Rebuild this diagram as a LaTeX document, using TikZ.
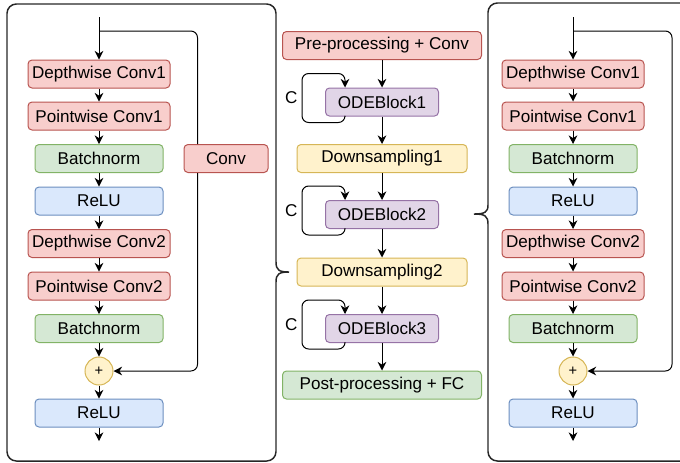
\documentclass[tikz,border=0pt]{standalone}
\usepackage{fontspec}
\setmainfont{Liberation Sans}
\usepackage{tikz}
\usetikzlibrary{arrows.meta,calc}
\tikzset{every picture/.style={line width=0.75pt}}

\definecolor{redfill}{HTML}{F8CECC}
\definecolor{redline}{HTML}{B85450}
\definecolor{grnfill}{HTML}{D5E8D4}
\definecolor{grnline}{HTML}{82B366}
\definecolor{blufill}{HTML}{DAE8FC}
\definecolor{bluline}{HTML}{6C8EBF}
\definecolor{purfill}{HTML}{E1D5E7}
\definecolor{purline}{HTML}{9673A6}
\definecolor{yelfill}{HTML}{FFF2CC}
\definecolor{yelline}{HTML}{D6B656}

\tikzset{
  blk/.style={draw, rounded corners=3pt, minimum height=21pt, inner sep=0pt,
    font=\fontsize{12.8}{15}\selectfont},
  redbox/.style={blk, fill=redfill, draw=redline},
  grnbox/.style={blk, fill=grnfill, draw=grnline},
  blubox/.style={blk, fill=blufill, draw=bluline},
  purbox/.style={blk, fill=purfill, draw=purline, minimum width=84.75pt},
  yelbox/.style={blk, fill=yelfill, draw=yelline, minimum width=127.5pt},
  plusnode/.style={circle, draw=yelline, fill=yelfill, minimum size=21pt,
    inner sep=0pt, font=\fontsize{11}{13}\selectfont},
  arr/.style={-{Stealth[length=6.5pt,width=6.5pt]}},
  panel/.style={draw=black!85, line width=1.1pt},
}

\begin{document}
\begin{tikzpicture}[x=0.75pt,y=0.75pt,yscale=-1,xscale=1]
		\useasboundingbox (0,0) rectangle (680,462);
		
		%Shape: left panel with brace
		\draw [panel, rounded corners=7] (276,262) -- (276,4) -- (7,4) -- (7,461) -- (276,461) -- (276,282) ;
		\draw [panel] (276,262) .. controls (276,270) and (279,272) .. (289,272) .. controls (279,272) and (276,274) .. (276,282) ;
		%Shape: right panel with brace
		\draw [panel, rounded corners=7] (488,205) -- (488,3) -- (700,3) ;
		\draw [panel, rounded corners=7] (488,224) -- (488,461) -- (700,461) ;
		\draw [panel] (488,205) .. controls (488,212) and (485,214) .. (474,214) .. controls (485,214) and (488,216) .. (488,224) ;
		
		% Left block nodes
		\node [redbox, minimum width=106.5pt] (ldw1) at (99,74) {Depthwise Conv1};
		\node [redbox, minimum width=106.5pt] (lpw1) at (99,116) {Pointwise Conv1};
		\node [grnbox, minimum width=96pt] (lbn1) at (99,158.5) {Batchnorm};
		\node [blubox, minimum width=96pt] (lrelu1) at (99,201) {ReLU};
		\node [redbox, minimum width=106.5pt] (ldw2) at (99,243.5) {Depthwise Conv2};
		\node [redbox, minimum width=106.5pt] (lpw2) at (99,286) {Pointwise Conv2};
		\node [grnbox, minimum width=96pt] (lbn2) at (99,328.5) {Batchnorm};
		\node [plusnode] (lplus) at (99,371) {+};
		\node [blubox, minimum width=96pt] (lrelu2) at (99,413) {ReLU};
		\node [redbox, minimum width=63pt] (lconv) at (226,158.5) {Conv};
		\coordinate (lin) at (99,17);
		\coordinate (lsplit) at (99,31);
		\coordinate (lout) at (99,441);
		
		%Straight Lines: left block
		\draw [arr] (lin) -- (ldw1);
		\draw [arr] (ldw1) -- (lpw1);
		\draw [arr] (lpw1) -- (lbn1);
		\draw [arr] (lbn1) -- (lrelu1);
		\draw [arr] (lrelu1) -- (ldw2);
		\draw [arr] (ldw2) -- (lpw2);
		\draw [arr] (lpw2) -- (lbn2);
		\draw [arr] (lbn2) -- (lplus);
		\draw [arr] (lplus) -- (lrelu2);
		\draw [arr] (lrelu2) -- (lout);
		%shortcut through Conv
		\draw [rounded corners=5] (lsplit) -| ($(lconv.north west)+(14,0)$);
		\draw [arr, rounded corners=5] ($(lconv.south west)+(14,0)$) |- (lplus);
		
		% Middle column nodes
		\node [redbox, minimum width=149.25pt] (pre) at (382,45.5) {Pre-processing + Conv};
		\node [purbox] (ode1) at (382,102) {ODEBlock1};
		\node [yelbox] (down1) at (382,158.5) {Downsampling1};
		\node [purbox] (ode2) at (382,214.5) {ODEBlock2};
		\node [yelbox] (down2) at (382,272) {Downsampling2};
		\node [purbox] (ode3) at (382,328.5) {ODEBlock3};
		\node [grnbox, minimum width=149.25pt] (post) at (382,385) {Post-processing + FC};
		
		%Straight Lines: middle column
		\draw [arr] (pre) -- (ode1);
		\draw [arr] (ode1) -- (down1);
		\draw [arr] (down1) -- (ode2);
		\draw [arr] (ode2) -- (down2);
		\draw [arr] (down2) -- (ode3);
		\draw [arr] (ode3) -- (post);
		%loops
		\draw [arr, rounded corners=5] ($(ode1.south west)+(20,0)$) -- ++(0,6) -- ++(-43,0) -- node [left, inner sep=3pt, font=\fontsize{12.8}{15}\selectfont] (c1) {C} ++(0,-49) -- ++(43,0) -- ($(ode1.north west)+(20,0)$);
		\draw [arr, rounded corners=5] ($(ode2.south west)+(20,0)$) -- ++(0,6) -- ++(-43,0) -- node [left, inner sep=3pt, font=\fontsize{12.8}{15}\selectfont] (c2) {C} ++(0,-49) -- ++(43,0) -- ($(ode2.north west)+(20,0)$);
		\draw [arr, rounded corners=5] ($(ode3.south west)+(20,0)$) -- ++(0,6) -- ++(-43,0) -- node [left, inner sep=3pt, font=\fontsize{12.8}{15}\selectfont] (c3) {C} ++(0,-49) -- ++(43,0) -- ($(ode3.north west)+(20,0)$);
		
		% Right block nodes
		\node [redbox, minimum width=106.5pt] (rdw1) at (573,74) {Depthwise Conv1};
		\node [redbox, minimum width=106.5pt] (rpw1) at (573,116) {Pointwise Conv1};
		\node [grnbox, minimum width=96pt] (rbn1) at (573,158.5) {Batchnorm};
		\node [blubox, minimum width=96pt] (rrelu1) at (573,201) {ReLU};
		\node [redbox, minimum width=106.5pt] (rdw2) at (573,243.5) {Depthwise Conv2};
		\node [redbox, minimum width=106.5pt] (rpw2) at (573,286) {Pointwise Conv2};
		\node [grnbox, minimum width=96pt] (rbn2) at (573,328.5) {Batchnorm};
		\node [plusnode] (rplus) at (573,371) {+};
		\node [blubox, minimum width=96pt] (rrelu2) at (573,413) {ReLU};
		\coordinate (rin) at (573,17);
		\coordinate (rsplit) at (573,31);
		\coordinate (rout) at (573,441);
		
		%Straight Lines: right block
		\draw [arr] (rin) -- (rdw1);
		\draw [arr] (rdw1) -- (rpw1);
		\draw [arr] (rpw1) -- (rbn1);
		\draw [arr] (rbn1) -- (rrelu1);
		\draw [arr] (rrelu1) -- (rdw2);
		\draw [arr] (rdw2) -- (rpw2);
		\draw [arr] (rpw2) -- (rbn2);
		\draw [arr] (rbn2) -- (rplus);
		\draw [arr] (rplus) -- (rrelu2);
		\draw [arr] (rrelu2) -- (rout);
		%shortcut
		\draw [arr, rounded corners=5] (rsplit) -- ++(99,0) |- (rplus);
		
\end{tikzpicture}
\end{document}
